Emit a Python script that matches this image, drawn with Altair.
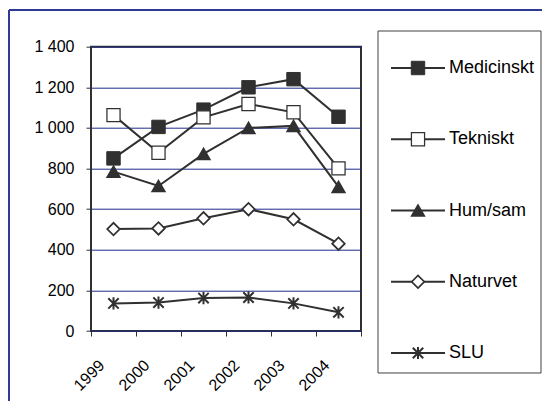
import altair as alt
import pandas as pd

years = ["1999", "2000", "2001", "2002", "2003", "2004"]
series = ["Medicinskt", "Tekniskt", "Hum/sam", "Naturvet", "SLU"]
medicinskt = [850, 1005, 1090, 1200, 1240, 1055]
tekniskt = [1063, 878, 1052, 1118, 1077, 801]
humsam = [785, 714, 872, 1000, 1010, 710]
naturvet = [502, 505, 555, 600, 550, 430]
slu = [136, 140, 162, 165, 136, 92]
y_ticks = [0, 200, 400, 600, 800, 1000, 1200, 1400]

values = [medicinskt, tekniskt, humsam, naturvet, slu]
rows = []
for s, vals in zip(series, values):
    for yr, v in zip(years, vals):
        rows.append({"series": s, "year": yr, "value": v})
df = pd.DataFrame(rows)
legend_df = pd.DataFrame({"series": series, "x0": [0] * 5, "x1": [1] * 5, "xm": [0.5] * 5})

INK = "#303030"
NAVY = "#1c2a8c"
FONT = "Liberation Sans"
asterisk = "M-0.85,-0.85L0.85,0.85M-0.85,0.85L0.85,-0.85M0,-1L0,1"

shape_scale = alt.Scale(domain=series, range=["square", "square", "triangle-up", "diamond", asterisk])
fill_scale = alt.Scale(domain=series, range=[INK, "#ffffff", INK, "#ffffff", "transparent"])
size_scale = alt.Scale(domain=series, range=[180, 150, 200, 160, 190])
sw_scale = alt.Scale(domain=series, range=[1, 2, 1, 2, 2])

x_enc = alt.X(
    "year:N",
    scale=alt.Scale(type="band", domain=years, paddingInner=0, paddingOuter=0),
    axis=alt.Axis(
        title=None, tickBand="extent", labelAngle=-45, labelAlign="right",
        labelBaseline="alphabetic", labelPadding=30, labelOffset=-8.5,
        tickSize=5, tickColor=INK,
        domain=False, grid=False, labelFont=FONT, labelFontSize=16, labelColor="black",
    ),
)
y_enc = alt.Y(
    "value:Q",
    scale=alt.Scale(domain=[0, 1400], nice=False, zero=True),
    axis=alt.Axis(
        title=None, values=y_ticks, tickSize=5, tickColor=INK, domain=False,
        grid=True, gridColor=NAVY, gridWidth=1, labelPadding=12,
        labelExpr="replace(format(datum.value, ','), ',', ' ')",
        labelFont=FONT, labelFontSize=16, labelColor="black",
    ),
)

lines = alt.Chart(df).mark_line(color=INK, strokeWidth=2).encode(
    x=x_enc, y=y_enc, detail="series:N"
)
points = alt.Chart(df).mark_point(stroke=INK, opacity=1).encode(
    x=x_enc, y=y_enc,
    shape=alt.Shape("series:N", scale=shape_scale, legend=None),
    fill=alt.Fill("series:N", scale=fill_scale, legend=None),
    size=alt.Size("series:N", scale=size_scale, legend=None),
    strokeWidth=alt.StrokeWidth("series:N", scale=sw_scale, legend=None),
)
main = alt.layer(lines, points)

leg_x = alt.Scale(domain=[0, 1], range=[300, 354])
leg_y = alt.Y("series:N", scale=alt.Scale(type="point", domain=series, range=[21.3, 306.3], padding=0), axis=None)
one = alt.Data(values=[{"k": 1}])

box = alt.Chart(one).mark_rect(fill="white", stroke="#404040", strokeWidth=1).encode(
    x=alt.value(287), x2=alt.value(450), y=alt.value(-15.7), y2=alt.value(326.3)
)
leg_line = alt.Chart(legend_df).mark_rule(color=INK, strokeWidth=2).encode(
    x=alt.X("x0:Q", scale=leg_x, axis=None), x2="x1:Q", y=leg_y
)
leg_pts = alt.Chart(legend_df).mark_point(stroke=INK, opacity=1).encode(
    x=alt.X("xm:Q", scale=leg_x, axis=None), y=leg_y,
    shape=alt.Shape("series:N", scale=shape_scale, legend=None),
    fill=alt.Fill("series:N", scale=fill_scale, legend=None),
    size=alt.Size("series:N", scale=size_scale, legend=None),
    strokeWidth=alt.StrokeWidth("series:N", scale=sw_scale, legend=None),
)
leg_text = alt.Chart(legend_df).mark_text(
    align="left", baseline="middle", dx=4, font=FONT, fontSize=18, color="black"
).encode(x=alt.X("x1:Q", scale=leg_x, axis=None), y=leg_y, text="series:N")
legend = alt.layer(box, leg_line, leg_pts, leg_text)

frame_top = alt.Chart(one).mark_rule(color="#2e3a94", strokeWidth=2).encode(
    x=alt.value(-82), x2=alt.value(470), y=alt.value(-36.7)
)
frame_left = alt.Chart(one).mark_rule(color="#2e3a94", strokeWidth=2).encode(
    x=alt.value(-82), y=alt.value(-36.7), y2=alt.value(360)
)

chart = alt.layer(main, legend, frame_top, frame_left).resolve_scale(
    x="independent", y="independent"
).properties(
    width=270, height=284.3,
    autosize=alt.AutoSizeParams(type="none"),
    padding={"left": 83, "top": 38.7, "right": 181, "bottom": 70},
    background="white",
).configure_view(stroke=INK, strokeWidth=2)

chart.save("out.html", embed_options={"renderer": "svg", "actions": False})
